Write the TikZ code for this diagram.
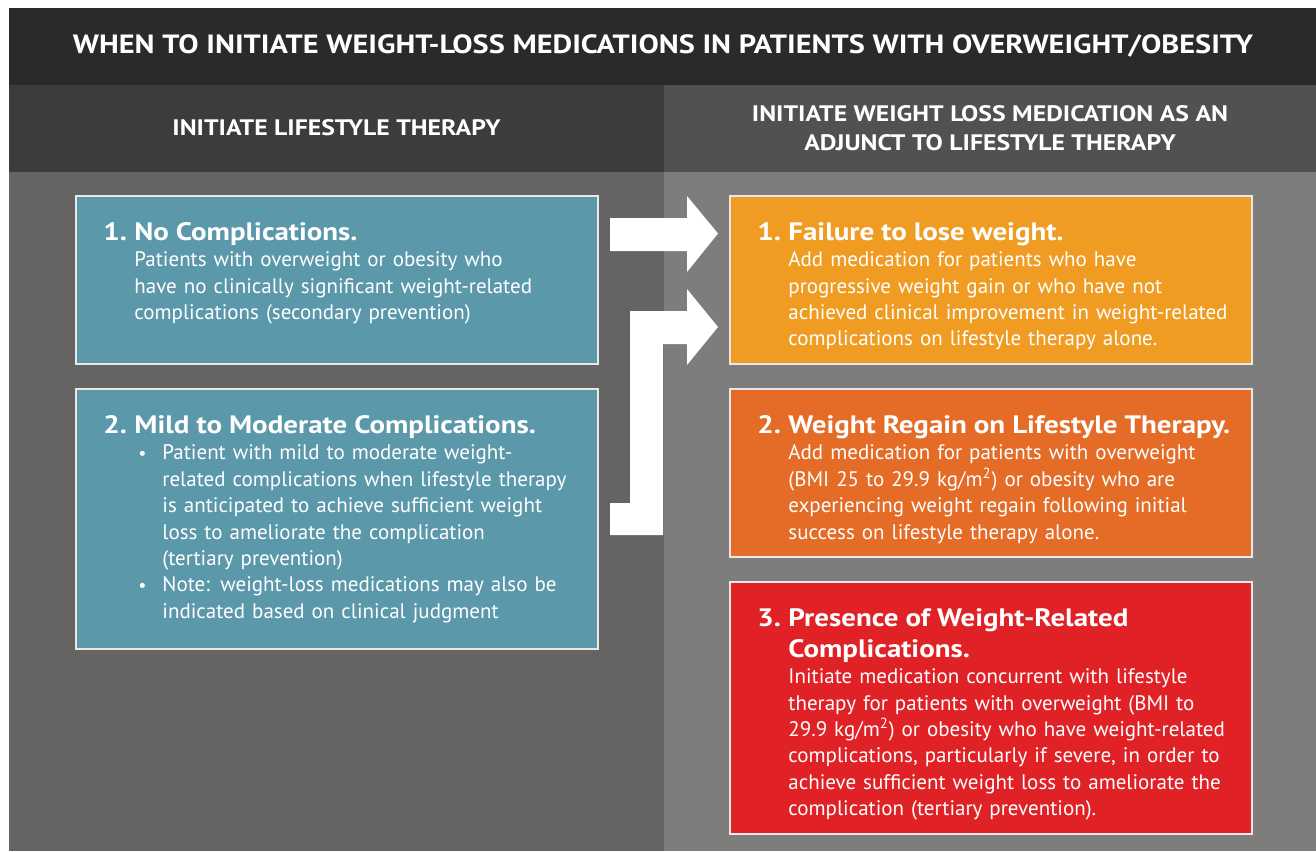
\documentclass[tikz,border=0pt]{standalone}
\usepackage{fontspec}
\setmainfont{PT Sans}[BoldFeatures={FakeStretch=1.15}]
\usetikzlibrary{positioning, calc}

\definecolor{titlebg}{HTML}{2C2A28}
\definecolor{lheadbg}{HTML}{3D3C3B}
\definecolor{rheadbg}{HTML}{525150}
\definecolor{lbodybg}{HTML}{666462}
\definecolor{rbodybg}{HTML}{7E7D7B}
\definecolor{teal}{HTML}{5B98AA}
\definecolor{amber}{HTML}{F09C22}
\definecolor{rust}{HTML}{E46C26}
\definecolor{alarm}{HTML}{E02227}
\definecolor{edge}{HTML}{E8E8E8}

\newcommand{\bodyfont}{\fontsize{10.5}{13.2}\selectfont}
\newcommand{\hdr}[2]{\leftskip=15.5pt{\fontsize{12.6}{15.5}\selectfont\bfseries
  \noindent\hspace*{-15.5pt}\makebox[15.5pt][l]{#1}#2\par}}
\newcommand{\bul}[1]{{\leftskip=29.5pt\noindent\hspace*{-12pt}\makebox[12pt][l]{\small\textbullet}#1\par}}

\begin{document}
\begin{tikzpicture}[x=0.5pt, y=-0.5pt, node distance=12.5pt]
\tikzstyle{panel} = [rectangle, draw=edge, line width=0.75pt, inner sep=0pt, outer sep=0pt,
    minimum width=261pt, minimum height=84pt]
\tikzstyle{boxtext} = [inner sep=0pt, text width=250pt, align=left,
    text=white, font=\bodyfont]
\tikzstyle{colhead} = [text=white, align=center, font=\fontsize{11.2}{14.5}\selectfont\bfseries]
\tikzstyle{bigarrow} = [fill=white]

\useasboundingbox (0,0) rectangle (1316,851);
\fill[white] (0,0) rectangle (1316,851);
\fill[titlebg] (9,8) rectangle (1316,85);
\fill[lheadbg] (9,85) rectangle (664,172);
\fill[rheadbg] (664,85) rectangle (1316,172);
\fill[lbodybg] (9,172) rectangle (664,851);
\fill[rbodybg] (664,172) rectangle (1316,851);

\node[text=white, font=\fontsize{13.2}{16}\selectfont\bfseries] (title) at (663,46)
  {WHEN TO INITIATE WEIGHT-LOSS MEDICATIONS IN PATIENTS WITH OVERWEIGHT/OBESITY};
\node[colhead] (lhead) at (336.5,128) {INITIATE LIFESTYLE THERAPY};
\node[colhead] (rhead) at (990,128) {INITIATE WEIGHT LOSS MEDICATION AS AN\\ADJUNCT TO LIFESTYLE THERAPY};

\node[panel, fill=teal] (l1) at (337,280) {};
\node[panel, fill=teal, below=12.5pt of l1, minimum height=130pt] (l2) {};
\node[panel, fill=amber, right=66pt of l1] (r1) {};
\node[panel, fill=rust, below=12.5pt of r1] (r2) {};
\node[panel, fill=alarm, below=12.5pt of r2, minimum height=126pt] (r3) {};

\node[boxtext, below right=13pt and 13.5pt of l1.north west] (l1txt) {%
  \hdr{1.}{No Complications.}
  Patients with overweight or obesity who\\
  have no clinically significant weight-related\\
  complications (secondary prevention)\par};

\node[boxtext, below right=13pt and 13.5pt of l2.north west] (l2txt) {%
  \hdr{2.}{Mild to Moderate Complications.}
  \bul{Patient with mild to moderate weight-\\
  related complications when lifestyle therapy\\
  is anticipated to achieve sufficient weight\\
  loss to ameliorate the complication\\
  (tertiary prevention)}
  \bul{Note: weight-loss medications may also be\\
  indicated based on clinical judgment}};

\node[boxtext, below right=13pt and 13.5pt of r1.north west] (r1txt) {%
  \hdr{1.}{Failure to lose weight.}
  Add medication for patients who have\\
  progressive weight gain or who have not\\
  achieved clinical improvement in weight-related\\
  complications on lifestyle therapy alone.\par};

\node[boxtext, below right=13pt and 13.5pt of r2.north west] (r2txt) {%
  \hdr{2.}{Weight Regain on Lifestyle Therapy.}
  Add medication for patients with overweight\\
  (BMI 25 to 29.9 kg/m\textsuperscript{2}) or obesity who are\\
  experiencing weight regain following initial\\
  success on lifestyle therapy alone.\par};

\node[boxtext, below right=13pt and 13.5pt of r3.north west] (r3txt) {%
  \hdr{3.}{Presence of Weight-Related\\Complications.}
  Initiate medication concurrent with lifestyle\\
  therapy for patients with overweight (BMI to\\
  29.9 kg/m\textsuperscript{2}) or obesity who have weight-related\\
  complications, particularly if severe, in order to\\
  achieve sufficient weight loss to ameliorate the\\
  complication (tertiary prevention).\par};

\coordinate (a1tail) at ($(l1.east)+(12,0)$);
\coordinate (a1tip) at ($(r1.west)+(-12,0)$);
\coordinate (a2tail) at ($(l2.east)+(12,0)$);

\fill[bigarrow] (a1tail |- 0,218) -- (687,218) -- (687,196) -- (a1tip |- 0,233.5)
  -- (687,272) -- (687,251) -- (a1tail |- 0,251) -- cycle;
\fill[bigarrow] (a2tail |- 0,503) -- (630,503) -- (630,311) -- (687,311) -- (687,289)
  -- (a1tip |- 0,327) -- (687,365) -- (687,344) -- (663,344) -- (663,535)
  -- (a2tail |- 0,535) -- cycle;
\end{tikzpicture}
\end{document}
